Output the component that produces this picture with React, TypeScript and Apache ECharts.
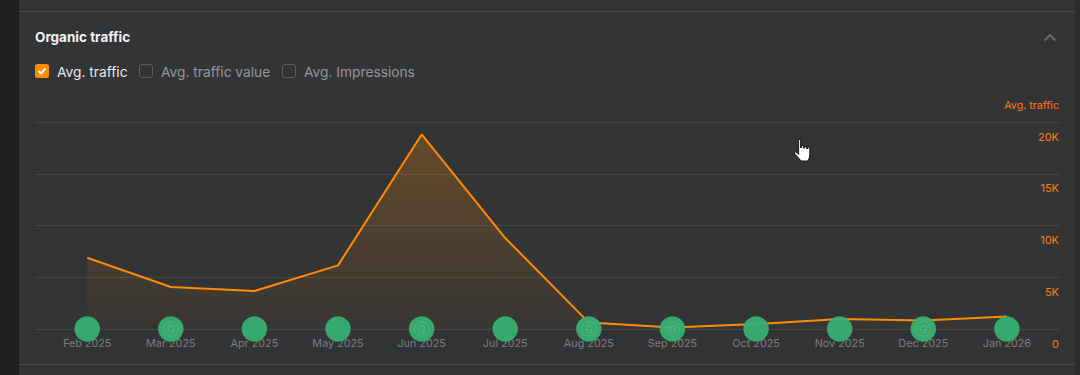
import React, { useEffect, useRef } from "react";
import * as echarts from "echarts";

const categories = ["Feb 2025", "Mar 2025", "Apr 2025", "May 2025", "Jun 2025", "Jul 2025", "Aug 2025", "Sep 2025", "Oct 2025", "Nov 2025", "Dec 2025", "Jan 2026"];
const avgTraffic = [6890, 4060, 3670, 6150, 18800, 8790, 620, 150, 480, 970, 820, 1210];
const baseline = [0, 0, 0, 0, 0, 0, 0, 0, 0, 0, 0, 0];
const googleUpdateMonths = ["Mar 2025", "Jun 2025", "Aug 2025", "Sep 2025", "Dec 2025"];
const yTickLabels: Record<number, string> = { 0: "0", 5000: "5K", 10000: "10K", 15000: "15K", 20000: "20K" };

const FONT = "Inter, 'Noto Sans', sans-serif";
const ORANGE = "#ff8c00";
const TICK = "#ff7a14";

const handPath =
  "M5 1.5C5 .6 7 .6 7 1.5V9L8 9V7.5C8 6.7 10 6.7 10 7.5V9.5L11 9.5V8.3C11 7.5 13 7.5 13 8.3V10L14 10V9C14 8.3 16 8.3 16 9V16C16 19 15 21.5 14 22.5H7.5C6 21 3.5 18 1 15C.3 14 1.5 12.8 2.7 13.6L5 15.5Z";
echarts.graphic.registerShape("handCursor", echarts.graphic.extendPath(handPath, {}) as any);

export default function App() {
  const ref = useRef<HTMLDivElement>(null);
  useEffect(() => {
    const chart = echarts.init(ref.current!, undefined, { renderer: "svg" });
    const text = (x: number, y: number, t: string, fill: string, size: number, align = "left", weight: any = 400) => ({
      type: "text",
      x,
      y,
      silent: true,
      style: { text: t, fill, fontFamily: FONT, fontSize: size, fontWeight: weight, align, verticalAlign: "middle" },
    });
    const box = (x: number) => ({
      type: "rect",
      shape: { x: x + 0.5, y: 64.5, width: 13, height: 13, r: 2.5 },
      style: { fill: "transparent", stroke: "#5c5d60", lineWidth: 1 },
    });
    chart.setOption({
      animation: false,
      backgroundColor: "#333436",
      textStyle: { fontFamily: FONT },
      grid: [
        { left: 35, width: 1024, top: 122, height: 207, containLabel: false },
        { left: 45.4, width: 1003.3, top: 122, height: 207, containLabel: false },
      ],
      xAxis: [
        { gridIndex: 0, type: "category", data: categories, show: false },
        {
          gridIndex: 1,
          type: "category",
          data: categories,
          axisLine: { show: false },
          axisTick: { show: false },
          axisLabel: { color: "#7b7c7f", fontSize: 10.8, fontFamily: FONT, margin: 9, interval: 0 },
        },
      ],
      yAxis: [
        {
          gridIndex: 0,
          type: "value",
          position: "right",
          min: 0,
          max: 20000,
          interval: 5000,
          axisLine: { show: false },
          axisTick: { show: false },
          splitLine: { show: true, lineStyle: { color: "#444548", width: 1 } },
          axisLabel: {
            inside: true,
            margin: 0,
            color: TICK,
            fontSize: 11,
            fontFamily: FONT,
            verticalAlign: "top",
            lineHeight: 29,
            formatter: (v: number) => yTickLabels[v],
          },
        },
        { gridIndex: 1, type: "value", min: 0, max: 20000, show: false, splitLine: { show: false } },
      ],
      series: [
        {
          name: "Avg. traffic",
          type: "line",
          xAxisIndex: 1,
          yAxisIndex: 1,
          data: avgTraffic,
          showSymbol: false,
          symbol: "none",
          lineStyle: { color: ORANGE, width: 2 },
          areaStyle: {
            color: new echarts.graphic.LinearGradient(0, 0, 0, 1, [
              { offset: 0, color: "rgba(255,140,0,0.36)" },
              { offset: 1, color: "rgba(255,140,0,0.03)" },
            ]),
          },
          z: 2,
        },
        {
          name: "Updates",
          type: "scatter",
          xAxisIndex: 1,
          yAxisIndex: 1,
          data: baseline,
          symbol: "circle",
          symbolSize: 25.5,
          itemStyle: { color: "#36b072", opacity: 0.94 },
          z: 3,
        },
        {
          name: "Google updates",
          type: "scatter",
          xAxisIndex: 1,
          yAxisIndex: 1,
          data: googleUpdateMonths.map((m) => [m, 0]),
          symbol: "circle",
          symbolSize: 14.5,
          itemStyle: { color: "transparent", borderColor: "rgba(255,255,255,0.14)", borderWidth: 1 },
          label: { show: true, position: "inside", formatter: "G", color: "rgba(255,255,255,0.2)", fontSize: 10.5, fontFamily: FONT, fontWeight: 500 },
          z: 4,
        },
      ],
      graphic: [
        { type: "rect", z: -10, shape: { x: 0, y: 0, width: 19, height: 375 }, style: { fill: "#1f2022" } },
        { type: "rect", z: -10, shape: { x: 1075, y: 0, width: 5, height: 375 }, style: { fill: "#2b2c2e" } },
        { type: "line", z: -10, shape: { x1: 19, y1: 11.5, x2: 1075, y2: 11.5 }, style: { stroke: "#48494b", lineWidth: 1 } },
        { type: "line", z: -10, shape: { x1: 19, y1: 364.5, x2: 1075, y2: 364.5 }, style: { stroke: "#48494b", lineWidth: 1 } },
        text(35, 37, "Organic traffic", "#f2f2f3", 13.5, "left", 700),
        { type: "rect", shape: { x: 35, y: 64, width: 14, height: 14, r: 2.5 }, style: { fill: ORANGE } },
        { type: "polyline", shape: { points: [[38.5, 71], [41, 73.5], [45.5, 68.5]] }, style: { fill: "none", stroke: "#fff", lineWidth: 2 } },
        text(57, 71.5, "Avg. traffic", "#e8e8e9", 13.75),
        box(139),
        text(161, 71.5, "Avg. traffic value", "#95969a", 13.75),
        box(282),
        text(304, 71.5, "Avg. Impressions", "#95969a", 13.75),
        text(1059, 105.5, "Avg. traffic", TICK, 10.7, "right"),
        { type: "polyline", shape: { points: [[1044.5, 40.5], [1050, 35], [1055.5, 40.5]] }, style: { fill: "none", stroke: "#66676a", lineWidth: 2 } },
        { type: "handCursor", x: 793.5, y: 138.5, scaleX: 1.02, scaleY: 1.0, style: { fill: "#fff", stroke: "#1a1a1a", lineWidth: 1 } },
      ],
    });
    return () => chart.dispose();
  }, []);
  return <div ref={ref} style={{ position: "fixed", left: 0, top: 0, width: 1080, height: 375 }} />;
}
